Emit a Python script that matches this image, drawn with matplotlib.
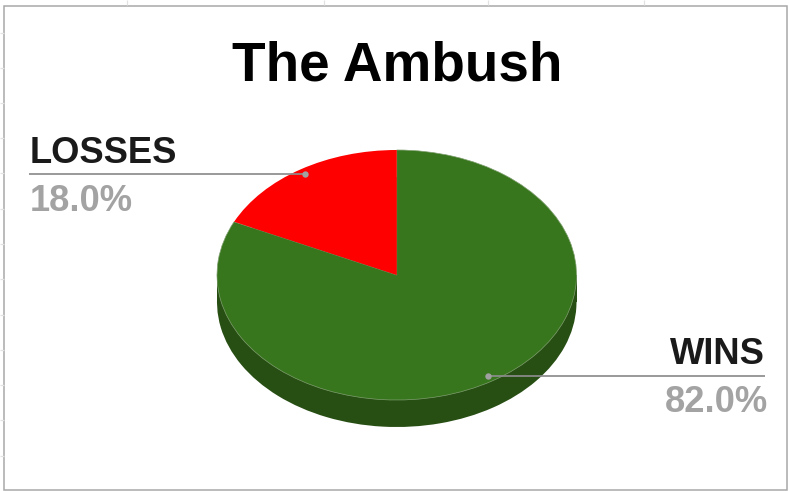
import matplotlib
matplotlib.use("Agg")
import matplotlib.pyplot as plt
from matplotlib.patches import Rectangle

W, H = 789, 491
title = "The Ambush"
categories = ["WINS", "LOSSES"]
values = [82.0, 18.0]
pct_labels = ["82.0%", "18.0%"]
top_colors = ["#38761d", "#ff0000"]
side_colors = ["#274e13", "#274e13"]

plt.rcParams["font.family"] = ["Liberation Sans", "DejaVu Sans"]
fig = plt.figure(figsize=(W / 100, H / 100), dpi=100, facecolor="white")

# Full-figure pixel-space axes
bg = fig.add_axes([0, 0, 1, 1], zorder=0)
bg.set_xlim(0, W)
bg.set_ylim(H, 0)
bg.axis("off")
for x in [127.5, 324.5, 488.5, 644]:
    bg.plot([x, x], [0, 5], color="#e2e2e2", lw=0.9, solid_capstyle="butt")
for y in [32.5, 68, 103, 138, 173, 209, 244, 279, 315, 350, 385, 420, 455.5]:
    bg.plot([0, 4], [y, y], color="#e2e2e2", lw=0.9, solid_capstyle="butt")
bg.add_patch(Rectangle((4.5, 5.5), 782.5, 484.5, fc="white", ec="#a8a8a8", lw=1.1))

# Pie, squashed into an ellipse, with a darker copy below it for the side wall
left, right, top, bottom, depth = 217, 576.5, 150, 400, 27
depth_u = depth / ((bottom - top) / 2)
pa = fig.add_axes([left / W, 1 - (bottom + depth) / H, (right - left) / W,
                   (bottom + depth - top) / H], zorder=1)
pa.pie(values, colors=side_colors, startangle=90, counterclock=False, radius=1,
       center=(0, -depth_u), wedgeprops=dict(lw=0))
pa.add_patch(Rectangle((-1, -depth_u), 2, depth_u, fc=side_colors[0], ec="none", zorder=0.5))
wedges, _ = pa.pie(values, colors=top_colors, startangle=90, counterclock=False, radius=1,
                   center=(0, 0), wedgeprops=dict(lw=0.5, edgecolor="#7f9f70"))
wedges[1].set_edgecolor("none")
pa.set_aspect("auto")
pa.set_xlim(-1, 1)
pa.set_ylim(-1 - depth_u, 1)
pa.axis("off")

# Overlay for leaders and text
ov = fig.add_axes([0, 0, 1, 1], zorder=2)
ov.set_xlim(0, W)
ov.set_ylim(H, 0)
ov.axis("off")
ov.patch.set_alpha(0)

ov.text(397, 80, title, ha="center", va="baseline", fontsize=39.5, fontweight="bold", color="#000000")

line_c, dot_c = "#8c8c8c", "#a0a0a0"
label_fs = 26.2
ov.plot([29, 305], [174, 174], color=line_c, lw=1.25, solid_capstyle="butt")
ov.plot([305], [174], "o", ms=4.6, color=dot_c, mew=0)
ov.text(30, 163, categories[1], ha="left", va="baseline", fontsize=label_fs, fontweight="bold", color="#1a1a1a")
ov.text(30, 211, pct_labels[1], ha="left", va="baseline", fontsize=label_fs, fontweight="bold", color="#a3a3a3")

ov.plot([488, 765], [376, 376], color=line_c, lw=1.25, solid_capstyle="butt")
ov.plot([488], [376], "o", ms=4.6, color=dot_c, mew=0)
ov.text(764.5, 364, categories[0], ha="right", va="baseline", fontsize=label_fs, fontweight="bold", color="#1a1a1a")
ov.text(768.5, 412, pct_labels[0], ha="right", va="baseline", fontsize=label_fs, fontweight="bold", color="#a3a3a3")

fig.savefig("out.png", dpi=100, facecolor="white")
